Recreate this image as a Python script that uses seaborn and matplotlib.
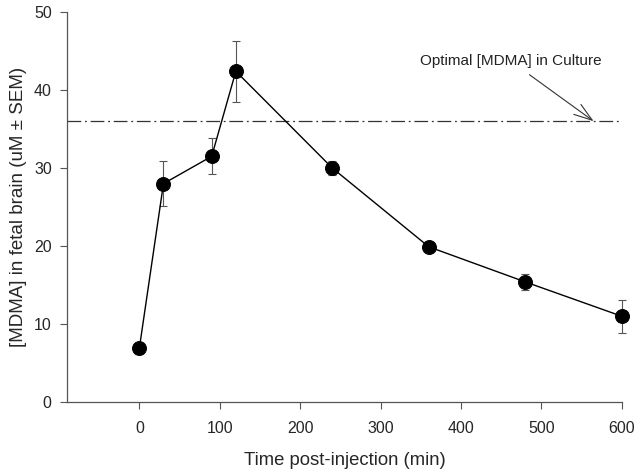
import matplotlib
matplotlib.use("Agg")
import matplotlib.pyplot as plt
import seaborn as sns
import pandas as pd

time_min = [0, 30, 90, 120, 240, 360, 480, 600]
mdma_uM = [6.9, 28.0, 31.5, 42.4, 30.0, 19.9, 15.4, 11.0]
sem_uM = [0.7, 2.9, 2.3, 3.9, 0.9, 0.3, 1.0, 2.1]
optimal_level = 36
annotation_text = "Optimal [MDMA] in Culture"
x_ticks = [0, 100, 200, 300, 400, 500, 600]
y_ticks = [0, 10, 20, 30, 40, 50]

df = pd.DataFrame({"time": time_min, "conc": mdma_uM, "sem": sem_uM})

sns.set_theme(style="ticks")
plt.rcParams["font.family"] = ["Liberation Sans", "DejaVu Sans"]

fig = plt.figure(figsize=(6.41, 4.73), dpi=100)
ax = fig.add_axes([0.1045, 0.150, 0.8655, 0.8246])

eb = ax.errorbar(df["time"], df["conc"], yerr=df["sem"], fmt="none",
                 ecolor="#555555", elinewidth=0.8, capsize=3, capthick=0.8,
                 zorder=2)
for art in eb.lines[1] + eb.lines[2]:
    art.set_clip_on(False)
sns.lineplot(data=df, x="time", y="conc", ax=ax, color="black", linewidth=1.0,
             marker="o", markersize=10, markerfacecolor="black",
             markeredgecolor="black", zorder=3, clip_on=False)

ax.plot([-90, 600], [optimal_level, optimal_level], color="#333333",
        linewidth=0.9, linestyle=(0, (11, 3, 1.5, 3)), zorder=1)

ax.annotate(annotation_text, xy=(565, optimal_level), xytext=(349, 43.7),
            fontsize=11, color="#222222", ha="left", va="center",
            arrowprops=dict(arrowstyle="->,head_length=1.2,head_width=0.4",
                            color="#333333", lw=0.8, shrinkA=4, shrinkB=0))

ax.set_xlim(-90, 600)
ax.set_ylim(0, 50)
ax.set_xticks(x_ticks)
ax.set_yticks(y_ticks)
ax.set_xlabel("Time post-injection (min)", fontsize=13.3, labelpad=11)
ax.set_ylabel("[MDMA] in fetal brain (uM \u00b1 SEM)", fontsize=13.5, labelpad=5)
ax.tick_params(axis="both", labelsize=11.5, length=5, width=0.8, color="#555555",
               pad=6)
ax.tick_params(axis="x", pad=9)
for s in ["top", "right"]:
    ax.spines[s].set_visible(False)
for s in ["left", "bottom"]:
    ax.spines[s].set_color("#555555")
    ax.spines[s].set_linewidth(0.9)

fig.savefig("out.png", dpi=100)
